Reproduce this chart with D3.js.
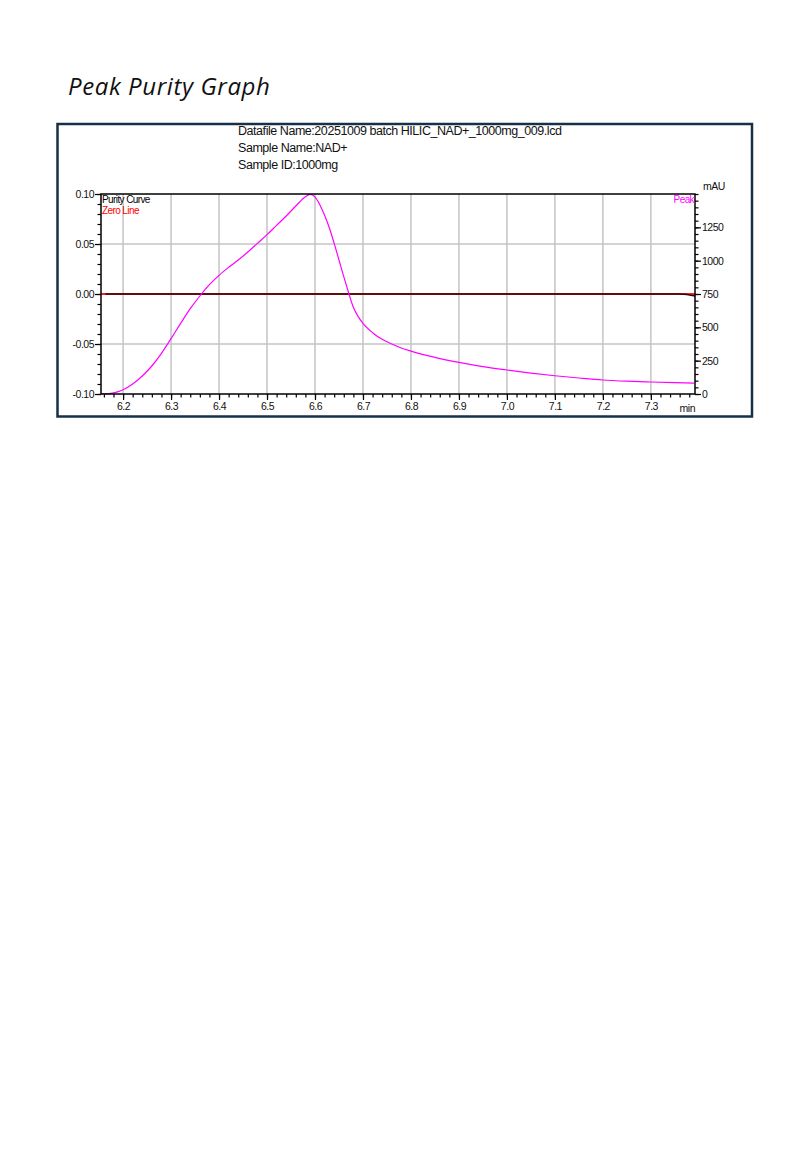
<!DOCTYPE html>
<html lang="en">
<head>
    <meta charset="UTF-8">
    <title>Peak Purity Graph</title>
    <style>
        body { margin: 0; background: #fff; }
        .tick text { font-family: "Liberation Sans", Arial, sans-serif; letter-spacing: -0.5px; }
    </style>
</head>
<body>
    <svg id="purity" width="810" height="1170"></svg>

    <script src="https://d3js.org/d3.v7.min.js"></script>
    <script>
        // Peak (mAU, right axis)
        const peakTime = [6.154, 6.17, 6.18, 6.19, 6.20, 6.22, 6.24, 6.26, 6.28, 6.30, 6.32, 6.34, 6.36, 6.38,
            6.40, 6.42, 6.44, 6.46, 6.48, 6.50, 6.52, 6.54, 6.56, 6.58, 6.59, 6.60, 6.61, 6.62, 6.63, 6.64,
            6.65, 6.66, 6.67, 6.68, 6.69, 6.70, 6.72, 6.74, 6.76, 6.78, 6.80, 6.85, 6.90, 6.95, 7.00, 7.05,
            7.10, 7.15, 7.20, 7.25, 7.30, 7.35, 7.39];
        const peakMAU = [2, 3, 8, 18, 32, 75, 135, 210, 305, 415, 530, 640, 735, 820,
            890, 950, 1005, 1065, 1130, 1195, 1265, 1335, 1410, 1480, 1497, 1478, 1420, 1340, 1245, 1130,
            1005, 880, 760, 650, 580, 530, 460, 410, 375, 345, 322, 275, 237, 205, 180, 157,
            137, 120, 105, 96, 90, 85, 82];

        // Purity curve (left axis) - flat at zero, small dip at the very end
        const purityTime = [6.163, 7.36, 7.375, 7.392];
        const purityValue = [0, 0, -0.0005, -0.002];

        // Axis ticks
        const xTicks = [6.2, 6.3, 6.4, 6.5, 6.6, 6.7, 6.8, 6.9, 7.0, 7.1, 7.2, 7.3];
        const yLeftTicks = [-0.10, -0.05, 0.00, 0.05, 0.10];
        const yRightTicks = [0, 250, 500, 750, 1000, 1250];

        const headerLines = [
            "Datafile Name:20251009 batch HILIC_NAD+_1000mg_009.lcd",
            "Sample Name:NAD+",
            "Sample ID:1000mg"
        ];

        const svg = d3.select("#purity");

        // page title
        svg.append("text")
            .attr("x", 68)
            .attr("y", 95)
            .style("font-family", "'Open Sans', Lato, sans-serif")
            .style("font-style", "italic")
            .style("font-size", "24px")
            .style("letter-spacing", "0.6px")
            .style("fill", "#111")
            .text("Peak Purity Graph");

        // outer frame
        svg.append("rect")
            .attr("x", 57.5)
            .attr("y", 124)
            .attr("width", 694.5)
            .attr("height", 292.5)
            .attr("fill", "none")
            .attr("stroke", "#17304a")
            .attr("stroke-width", 2.5);

        // header text
        svg.append("g").selectAll("text")
            .data(headerLines)
            .join("text")
            .attr("x", 238)
            .attr("y", (d, i) => 135 + i * 17)
            .style("font-family", "'Liberation Sans', Arial, sans-serif")
            .style("font-size", "12.5px")
            .style("letter-spacing", "-0.45px")
            .style("fill", "#111")
            .text(d => d);

        const margin = { top: 194, left: 101 };
        const width = 594, height = 200;
        const g = svg.append("g").attr("transform", `translate(${margin.left},${margin.top})`);

        const x = d3.scaleLinear().domain([6.154, 7.392]).range([0, width]);
        const yL = d3.scaleLinear().domain([-0.1, 0.1]).range([height, 0]);
        const yR = d3.scaleLinear().domain([0, 1500]).range([height, 0]);

        // grid
        g.append("g").selectAll("line")
            .data(xTicks)
            .join("line")
            .attr("x1", d => x(d)).attr("x2", d => x(d))
            .attr("y1", 0).attr("y2", height)
            .attr("stroke", "#c4c4c4").attr("stroke-width", 1.5);
        g.append("g").selectAll("line")
            .data(yLeftTicks.slice(1, -1))
            .join("line")
            .attr("x1", 0).attr("x2", width)
            .attr("y1", d => yL(d)).attr("y2", d => yL(d))
            .attr("stroke", "#c4c4c4").attr("stroke-width", 1.5);

        // minor ticks (no labels)
        const xMinor = d3.range(6.16, 7.39, 0.02).map(v => +v.toFixed(2));
        const yMinor = d3.range(-0.1, 0.1001, 0.01).map(v => +v.toFixed(2));
        const rMinor = d3.range(0, 1501, 50);

        function styleAxis(sel) {
            sel.select(".domain").remove();
            sel.selectAll(".tick line").attr("stroke", "#000").attr("stroke-width", 1.2);
            sel.selectAll(".tick text").style("font-size", "10.5px").attr("fill", "#111");
        }

        g.append("g").attr("transform", `translate(0,${height})`)
            .call(d3.axisBottom(x).tickValues(xMinor).tickSize(3.5).tickFormat(""))
            .call(styleAxis);
        g.append("g")
            .call(d3.axisLeft(yL).tickValues(yMinor).tickSize(3.5).tickFormat(""))
            .call(styleAxis);
        g.append("g").attr("transform", `translate(${width},0)`)
            .call(d3.axisRight(yR).tickValues(rMinor).tickSize(3.5).tickFormat(""))
            .call(styleAxis);

        // major axes
        g.append("g").attr("transform", `translate(0,${height})`)
            .call(d3.axisBottom(x).tickValues(xTicks).tickSize(6).tickPadding(3).tickFormat(d => d.toFixed(1)))
            .call(styleAxis);
        g.append("g")
            .call(d3.axisLeft(yL).tickValues(yLeftTicks).tickSize(6).tickPadding(1).tickFormat(d => d.toFixed(2)))
            .call(styleAxis);
        g.append("g").attr("transform", `translate(${width},0)`)
            .call(d3.axisRight(yR).tickValues(yRightTicks).tickSize(6).tickPadding(1).tickFormat(d3.format("d")))
            .call(styleAxis);

        // axis unit labels
        const unitFont = "'Liberation Sans', Arial, sans-serif";
        g.append("text")
            .attr("x", width + 8).attr("y", -4)
            .style("font-family", unitFont).style("font-size", "10.5px")
            .style("letter-spacing", "-0.5px").style("fill", "#111")
            .text("mAU");
        g.append("text")
            .attr("x", width).attr("y", height + 18)
            .attr("text-anchor", "end")
            .style("font-family", unitFont).style("font-size", "10.5px")
            .style("letter-spacing", "-0.5px").style("fill", "#111")
            .text("min");

        // zero line
        g.append("line")
            .attr("x1", x(6.154)).attr("x2", x(7.392))
            .attr("y1", yL(0)).attr("y2", yL(0))
            .attr("stroke", "#ff2020").attr("stroke-width", 2);

        // purity curve
        const purity = purityTime.map((t, i) => ({ t, v: purityValue[i] }));
        g.append("path")
            .datum(purity)
            .attr("d", d3.line().x(d => x(d.t)).y(d => yL(d.v)))
            .attr("fill", "none")
            .attr("stroke", "#2a0a0a")
            .attr("stroke-width", 1.3);

        // peak
        const peak = peakTime.map((t, i) => ({ t, v: peakMAU[i] }));
        g.append("path")
            .datum(peak)
            .attr("d", d3.line().curve(d3.curveMonotoneX).x(d => x(d.t)).y(d => yR(d.v)))
            .attr("fill", "none")
            .attr("stroke", "#ff00ff")
            .attr("stroke-width", 1.2);

        // plot frame
        g.append("rect")
            .attr("width", width).attr("height", height)
            .attr("fill", "none")
            .attr("stroke", "#000")
            .attr("stroke-width", 1.5);

        // legend
        const legendText = (tx, ty, anchor, color, label) => g.append("text")
            .attr("x", tx).attr("y", ty)
            .attr("text-anchor", anchor)
            .style("font-family", unitFont).style("font-size", "10px")
            .style("letter-spacing", "-0.6px").style("fill", color)
            .text(label);
        legendText(1, 9, "start", "#000", "Purity Curve");
        legendText(1, 20, "start", "#ff0000", "Zero Line");
        legendText(width - 1, 9, "end", "#ff00ff", "Peak");
    </script>
</body>
</html>
